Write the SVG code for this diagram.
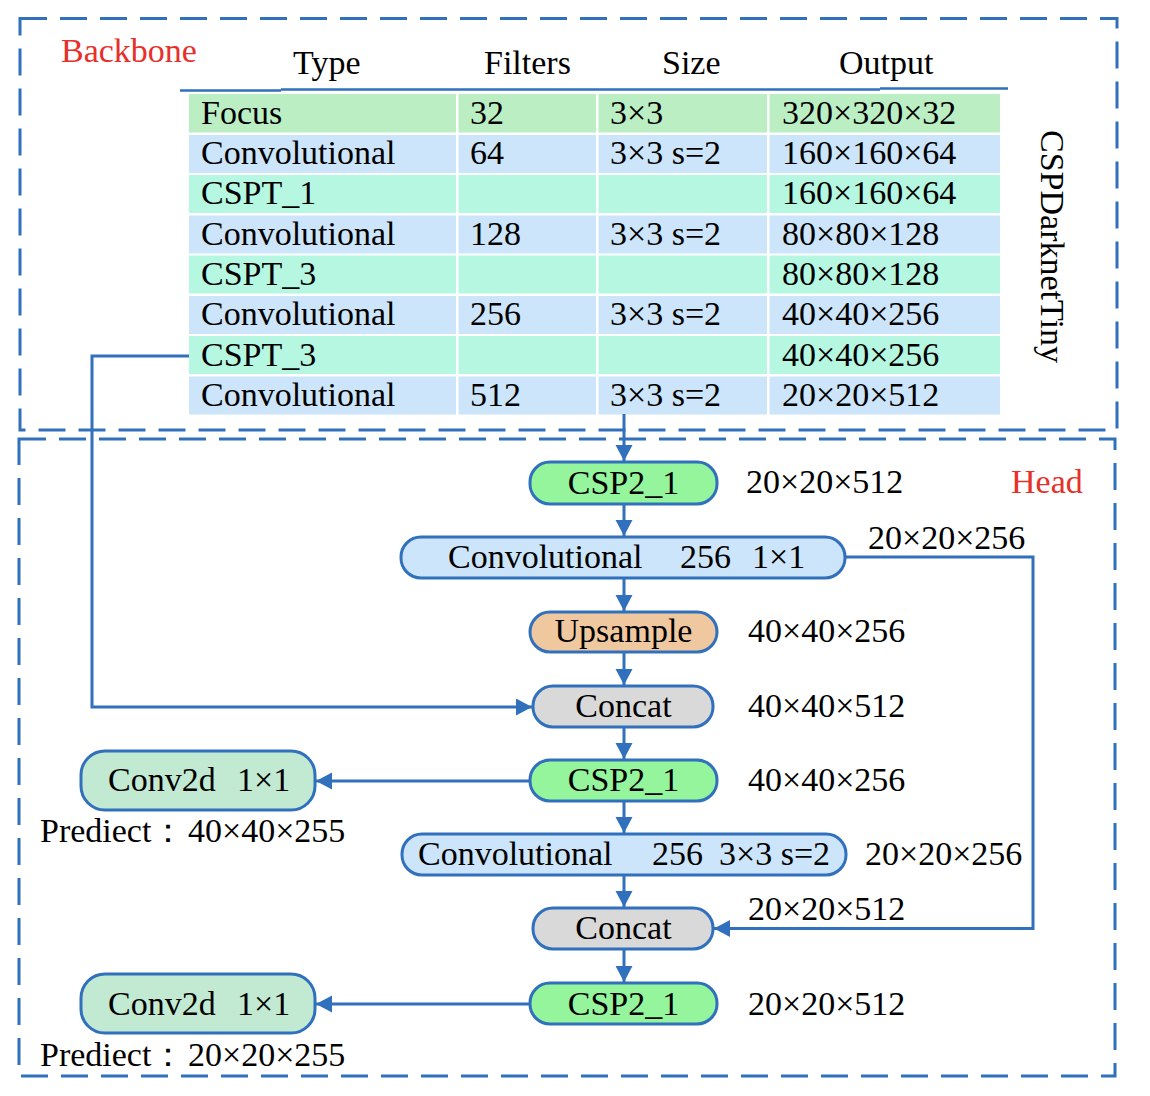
<svg xmlns="http://www.w3.org/2000/svg" width="1150" height="1096" viewBox="0 0 1150 1096">
<style>
text{font-family:"Liberation Serif","Times New Roman",serif;font-size:34px;fill:#000}
.red{fill:#E6302A}
.dash{fill:none;stroke:#3070BC;stroke-width:3;stroke-dasharray:27 13}
.node{stroke:#3070BC;stroke-width:3}
.conn{fill:none;stroke:#3070BC;stroke-width:3}
.g{fill:#BCEEC4}.b{fill:#CCE5FB}.m{fill:#B6F7E2}
.c{text-anchor:middle}
</style>
<defs>
<marker id="arr" markerUnits="userSpaceOnUse" markerWidth="17" markerHeight="18" refX="16" refY="8.5" orient="auto">
<path d="M0,0 L16,8.5 L0,17 z" fill="#3070BC"/>
</marker>
</defs>
<rect width="1150" height="1096" fill="#fff"/>

<g id="backbone-frame">
<rect class="dash" x="20" y="18.5" width="1097" height="411.5"/>
<text class="red" x="61" y="62">Backbone</text>
</g>
<g id="head-frame">
<rect class="dash" x="19" y="439" width="1096" height="637"/>
<text class="red" x="1011" y="493">Head</text>
</g>

<g id="table-header">
<text x="293" y="74">Type</text>
<text x="484" y="74">Filters</text>
<text x="662" y="74">Size</text>
<text x="839" y="74">Output</text>
<path d="M180,90.5 H281 M281,89.5 H880 M880,88.5 H1008" fill="none" stroke="#3070BC" stroke-width="2.5"/>
</g>

<g id="table">
<g id="row-focus">
<rect class="g" x="189" y="94" width="267" height="38.5"/><rect class="g" x="458.5" y="94" width="137.5" height="38.5"/><rect class="g" x="598.5" y="94" width="168.5" height="38.5"/><rect class="g" x="769.5" y="94" width="230.5" height="38.5"/>
<text x="201" y="123.5">Focus</text><text x="470" y="123.5">32</text><text x="610" y="123.5">3×3</text><text x="782" y="123.5">320×320×32</text>
</g>
<g id="row-conv1">
<rect class="b" x="189" y="135" width="267" height="38"/><rect class="b" x="458.5" y="135" width="137.5" height="38"/><rect class="b" x="598.5" y="135" width="168.5" height="38"/><rect class="b" x="769.5" y="135" width="230.5" height="38"/>
<text x="201" y="164">Convolutional</text><text x="470" y="164">64</text><text x="610" y="164">3×3 s=2</text><text x="782" y="164">160×160×64</text>
</g>
<g id="row-cspt1">
<rect class="m" x="189" y="175" width="267" height="38"/><rect class="m" x="458.5" y="175" width="137.5" height="38"/><rect class="m" x="598.5" y="175" width="168.5" height="38"/><rect class="m" x="769.5" y="175" width="230.5" height="38"/>
<text x="201" y="204">CSPT_1</text><text x="782" y="204">160×160×64</text>
</g>
<g id="row-conv2">
<rect class="b" x="189" y="215.5" width="267" height="38"/><rect class="b" x="458.5" y="215.5" width="137.5" height="38"/><rect class="b" x="598.5" y="215.5" width="168.5" height="38"/><rect class="b" x="769.5" y="215.5" width="230.5" height="38"/>
<text x="201" y="244.5">Convolutional</text><text x="470" y="244.5">128</text><text x="610" y="244.5">3×3 s=2</text><text x="782" y="244.5">80×80×128</text>
</g>
<g id="row-cspt3a">
<rect class="m" x="189" y="255.5" width="267" height="38"/><rect class="m" x="458.5" y="255.5" width="137.5" height="38"/><rect class="m" x="598.5" y="255.5" width="168.5" height="38"/><rect class="m" x="769.5" y="255.5" width="230.5" height="38"/>
<text x="201" y="285">CSPT_3</text><text x="782" y="285">80×80×128</text>
</g>
<g id="row-conv3">
<rect class="b" x="189" y="296" width="267" height="38"/><rect class="b" x="458.5" y="296" width="137.5" height="38"/><rect class="b" x="598.5" y="296" width="168.5" height="38"/><rect class="b" x="769.5" y="296" width="230.5" height="38"/>
<text x="201" y="325">Convolutional</text><text x="470" y="325">256</text><text x="610" y="325">3×3 s=2</text><text x="782" y="325">40×40×256</text>
</g>
<g id="row-cspt3b">
<rect class="m" x="189" y="336" width="267" height="38"/><rect class="m" x="458.5" y="336" width="137.5" height="38"/><rect class="m" x="598.5" y="336" width="168.5" height="38"/><rect class="m" x="769.5" y="336" width="230.5" height="38"/>
<text x="201" y="365.5">CSPT_3</text><text x="782" y="365.5">40×40×256</text>
</g>
<g id="row-conv4">
<rect class="b" x="189" y="376.5" width="267" height="38"/><rect class="b" x="458.5" y="376.5" width="137.5" height="38"/><rect class="b" x="598.5" y="376.5" width="168.5" height="38"/><rect class="b" x="769.5" y="376.5" width="230.5" height="38"/>
<text x="201" y="406">Convolutional</text><text x="470" y="406">512</text><text x="610" y="406">3×3 s=2</text><text x="782" y="406">20×20×512</text>
</g>
<text transform="translate(1041,130) rotate(90)">CSPDarknetTiny</text>
</g>

<g id="connectors">
<path class="conn" d="M624,414 V461" marker-end="url(#arr)"/>
<path class="conn" d="M624,504 V536" marker-end="url(#arr)"/>
<path class="conn" d="M624,578 V611" marker-end="url(#arr)"/>
<path class="conn" d="M624,652 V685" marker-end="url(#arr)"/>
<path class="conn" d="M624,727 V759" marker-end="url(#arr)"/>
<path class="conn" d="M624,801 V833" marker-end="url(#arr)"/>
<path class="conn" d="M624,875 V907" marker-end="url(#arr)"/>
<path class="conn" d="M624,948 V982" marker-end="url(#arr)"/>
<path class="conn" d="M189,356 H92 V707 H532" marker-end="url(#arr)"/>
<path class="conn" d="M845,557 H1033 V928.5 H714" marker-end="url(#arr)"/>
<path class="conn" d="M530,781 H316" marker-end="url(#arr)"/>
<path class="conn" d="M530,1004 H316" marker-end="url(#arr)"/>
</g>

<g id="csp2-1-a">
<rect class="node" x="530" y="462" width="187" height="42" rx="20" fill="#94F59C"/>
<text class="c" x="623.5" y="494">CSP2_1</text>
<text x="746" y="493">20×20×512</text>
</g>
<g id="conv-1x1">
<rect class="node" x="401" y="537" width="444" height="41" rx="20" fill="#CCE5FB"/>
<text x="448" y="568">Convolutional</text><text x="680" y="568">256</text><text x="752" y="568">1×1</text>
<text x="868" y="549">20×20×256</text>
</g>
<g id="upsample">
<rect class="node" x="530" y="612" width="187" height="40" rx="20" fill="#F0C8A0"/>
<text class="c" x="623.5" y="642">Upsample</text>
<text x="748" y="642">40×40×256</text>
</g>
<g id="concat-a">
<rect class="node" x="533" y="686" width="180" height="41" rx="20" fill="#D9D9D9"/>
<text class="c" x="623.5" y="717">Concat</text>
<text x="748" y="717">40×40×512</text>
</g>
<g id="csp2-1-b">
<rect class="node" x="530" y="760" width="187" height="41" rx="20" fill="#94F59C"/>
<text class="c" x="623.5" y="791">CSP2_1</text>
<text x="748" y="791">40×40×256</text>
</g>
<g id="conv2d-a">
<rect class="node" x="81" y="751" width="234" height="59" rx="24" fill="#C2EAD2"/>
<text x="108" y="791">Conv2d</text><text x="237" y="791">1×1</text>
<text x="40" y="842">Prediect：</text><text x="188" y="842">40×40×255</text>
</g>
<g id="conv-3x3">
<rect class="node" x="402" y="834" width="444" height="41" rx="20" fill="#CCE5FB"/>
<text x="418" y="865">Convolutional</text><text x="652" y="865">256</text><text x="719" y="865">3×3 s=2</text>
<text x="865" y="865">20×20×256</text>
</g>
<g id="concat-b">
<rect class="node" x="533" y="908" width="180" height="41" rx="20" fill="#D9D9D9"/>
<text class="c" x="623.5" y="939">Concat</text>
<text x="748" y="920">20×20×512</text>
</g>
<g id="csp2-1-c">
<rect class="node" x="530" y="983" width="187" height="41" rx="20" fill="#94F59C"/>
<text class="c" x="623.5" y="1015">CSP2_1</text>
<text x="748" y="1015">20×20×512</text>
</g>
<g id="conv2d-b">
<rect class="node" x="81" y="974" width="234" height="59" rx="24" fill="#C2EAD2"/>
<text x="108" y="1015">Conv2d</text><text x="237" y="1015">1×1</text>
<text x="40" y="1066">Prediect：</text><text x="188" y="1066">20×20×255</text>
</g>
</svg>
